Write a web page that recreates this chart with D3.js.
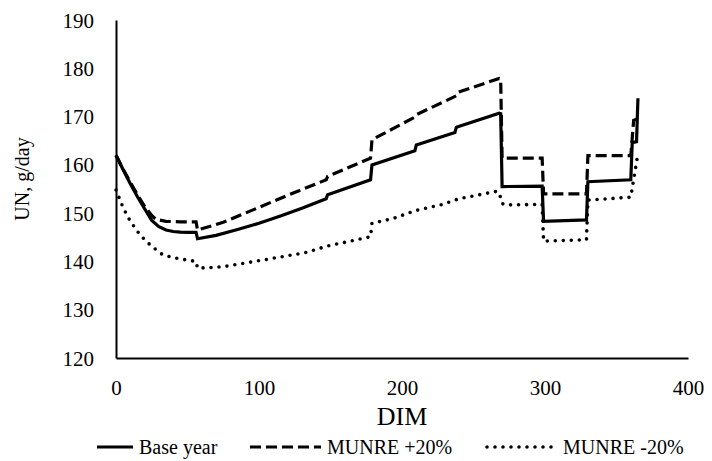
<!DOCTYPE html>
<html>
<head>
<meta charset="utf-8">
<script src="https://cdn.jsdelivr.net/npm/d3@7"></script>
<style>
  html, body { margin: 0; padding: 0; background: #fff; }
  svg { display: block; }
  text { font-family: "Liberation Serif", "Times New Roman", serif; fill: #000; }
</style>
</head>
<body>
<svg id="chart" width="712" height="461"></svg>
<script>
// Days in milk (DIM) and urinary nitrogen (UN, g/day) for each scenario
const dimBase = [0, 5, 10, 15, 20, 25, 30, 35, 40, 45, 50, 56, 57, 70, 85, 100, 115, 130, 147, 148, 178, 179, 209, 210, 237, 238, 268, 269, 270, 298, 299, 329, 330, 360, 361, 364, 365];
const unBase  = [162.0, 159.0, 156.1, 153.4, 150.9, 148.5, 147.2, 146.5, 146.2, 146.05, 146.0, 146.0, 144.7, 145.4, 146.6, 147.9, 149.4, 151.0, 153.0, 153.8, 156.9, 160.0, 162.9, 164.1, 166.7, 167.8, 170.7, 170.6, 155.5, 155.6, 148.3, 148.6, 156.5, 156.9, 164.6, 164.8, 173.8];

const dimPlus = [0, 5, 10, 15, 20, 25, 28, 35, 45, 56, 57, 75, 100, 120, 147, 148, 178, 179, 209, 210, 238, 239, 268, 269, 270, 298, 299, 329, 330, 360, 362, 365];
const unPlus  = [162.0, 159.1, 156.4, 153.8, 151.4, 149.5, 148.7, 148.3, 148.2, 148.2, 146.5, 148.1, 151.2, 153.7, 156.9, 157.6, 161.4, 165.2, 169.9, 170.4, 174.3, 175.0, 177.9, 177.8, 161.4, 161.4, 154.0, 154.0, 161.9, 161.9, 169.2, 169.6];

const dimMinus = [0, 5, 10, 17, 25, 33, 45, 56, 57, 75, 103, 132, 148, 178, 179, 194, 209, 227, 240, 259, 266, 268, 270, 272, 298, 299, 329, 330, 360, 361, 364, 365];
const unMinus  = [154.8, 151.1, 148.3, 145.4, 143.1, 141.3, 140.5, 140.0, 138.6, 138.9, 140.3, 141.8, 143.2, 145.1, 147.9, 148.9, 150.5, 151.7, 153.0, 154.1, 154.5, 154.2, 152.0, 151.7, 151.8, 144.2, 144.5, 152.7, 153.3, 155.2, 160.5, 162.5];

const seriesNames = ["Base year", "MUNRE +20%", "MUNRE -20%"];
const xTicks = [0, 100, 200, 300, 400];
const yTicks = [120, 130, 140, 150, 160, 170, 180, 190];

const FONT = '"Liberation Serif", "Times New Roman", serif';

const series = [
  { name: seriesNames[0], dim: dimBase,  un: unBase,  dash: null,   width: 3.2, cap: "butt" },
  { name: seriesNames[1], dim: dimPlus,  un: unPlus,  dash: "11,5", width: 3.2, cap: "butt" },
  { name: seriesNames[2], dim: dimMinus, un: unMinus, dash: "0,8",  width: 3.6, cap: "round" }
];

const svg = d3.select("#chart");

const x = d3.scaleLinear().domain([0, 400]).range([116, 688]);
const y = d3.scaleLinear().domain([120, 190]).range([358, 20]);

// Axes: plain black lines, no tick marks
const xAxis = d3.axisBottom(x).tickValues(xTicks).tickSize(0).tickPadding(22);
const yAxis = d3.axisLeft(y).tickValues(yTicks).tickSize(0).tickPadding(22);

const gx = svg.append("g").attr("transform", `translate(0,${y(120)})`).call(xAxis);
const gy = svg.append("g").attr("transform", `translate(${x(0)},0)`).call(yAxis);

[gx, gy].forEach(g => {
  g.attr("font-family", FONT).attr("font-size", 21);
  g.select(".domain").attr("stroke", "#000").attr("stroke-width", 2);
  g.selectAll("text").attr("fill", "#000");
});
gy.selectAll("text").attr("dy", "0.34em");
gx.selectAll("text").attr("dy", "0.72em");

// Series lines
const line = d3.line().x(d => x(d[0])).y(d => y(d[1]));
series.forEach(s => {
  const pts = s.dim.map((d, i) => [d, s.un[i]]);
  svg.append("path")
    .datum(pts)
    .attr("fill", "none")
    .attr("stroke", "#000")
    .attr("stroke-width", s.width)
    .attr("stroke-linecap", s.cap)
    .attr("stroke-linejoin", "miter")
    .attr("stroke-dasharray", s.dash)
    .attr("d", line);
});

// Axis titles
svg.append("text")
  .attr("x", (x(0) + x(400)) / 2)
  .attr("y", 425)
  .attr("text-anchor", "middle")
  .attr("font-family", FONT)
  .attr("font-size", 26)
  .text("DIM");

svg.append("text")
  .attr("transform", "translate(29,179) rotate(-90)")
  .attr("text-anchor", "middle")
  .attr("font-family", FONT)
  .attr("font-size", 20)
  .text("UN, g/day");

// Legend
const legendItems = [
  { s: series[0], x0: 97, x1: 133, tx: 139 },
  { s: series[1], x0: 250, x1: 321, tx: 327 },
  { s: series[2], x0: 487, x1: 558, tx: 563 }
];
const legendY = 447;
legendItems.forEach(it => {
  svg.append("line")
    .attr("x1", it.x0).attr("x2", it.x1)
    .attr("y1", legendY).attr("y2", legendY)
    .attr("stroke", "#000")
    .attr("stroke-width", it.s.width)
    .attr("stroke-linecap", it.s.cap)
    .attr("stroke-dasharray", it.s.dash);
  svg.append("text")
    .attr("x", it.tx)
    .attr("y", legendY + 7)
    .attr("font-family", FONT)
    .attr("font-size", 20)
    .text(it.s.name);
});
</script>
</body>
</html>
